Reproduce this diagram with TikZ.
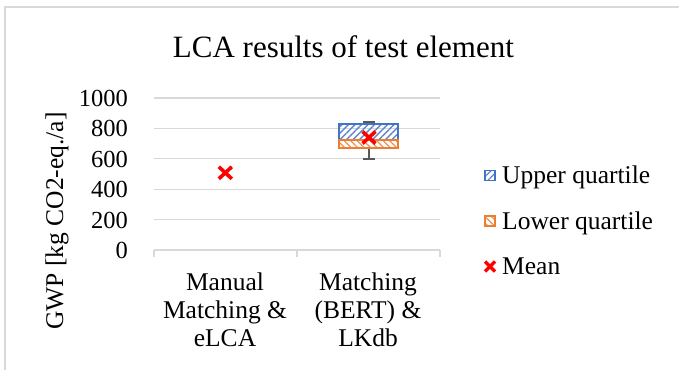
\documentclass[tikz,border=0pt]{standalone}
\usepackage{fontspec}
\setmainfont{Liberation Serif}
\usetikzlibrary{patterns.meta}
\definecolor{gridgray}{HTML}{D9D9D9}
\definecolor{qblue}{HTML}{4472C4}
\definecolor{qorange}{HTML}{ED7D31}
\definecolor{whisk}{HTML}{595959}
\definecolor{meanred}{HTML}{FF0000}
\begin{document}
\begin{tikzpicture}[x=1pt,y=-1pt,
  gridline/.style={gridgray,line width=1.3pt},
  ticklabel/.style={anchor=east,inner sep=0pt,font=\fontsize{24.5}{28}\selectfont},
  catlabel/.style={anchor=base,inner sep=0pt,font=\fontsize{25.5}{28}\selectfont},
  legtext/.style={anchor=base west,inner sep=0pt,font=\fontsize{25.5}{28}\selectfont},
  upperbox/.style={draw=qblue,line width=1.7pt,
    pattern={Lines[angle=45,distance=4.6pt,line width=1.3pt]},pattern color=qblue!85},
  lowerbox/.style={draw=qorange,line width=1.7pt,
    pattern={Lines[angle=-45,distance=4.6pt,line width=1.3pt]},pattern color=qorange!85},
  whisker/.style={whisk,line width=1.6pt},
  meanmark/.style={meanred,line width=3.6pt},
]
\useasboundingbox (0,0) rectangle (679,369);
\fill[white] (0,0) rectangle (679,369);

% chart area frame (continues past the right and bottom edges)
\draw[gridgray,line width=1.5pt] (5,400) -- (5,7) -- (700,7);

% title
\node[anchor=base,inner sep=0pt,font=\fontsize{31}{36}\selectfont] (title) at (343.4,57.3) {LCA results of test element};

% horizontal gridlines (value v at y = 250 - 0.152 v)
\foreach \yy in {98,128.4,158.8,189.2,219.6}
  \draw[gridline] (154,\yy) -- (440,\yy);
% category axis with tick marks
\draw[gridline] (154,250) -- (440,250);
\foreach \xx in {154,297,440}
  \draw[gridline] (\xx,250) -- (\xx,257);

% value axis labels
\node[ticklabel] (t1000) at (128,98.5) {1000};
\node[ticklabel] (t800) at (128,128.9) {800};
\node[ticklabel] (t600) at (128,159.3) {600};
\node[ticklabel] (t400) at (128,189.7) {400};
\node[ticklabel] (t200) at (128,220.1) {200};
\node[ticklabel] (t0) at (128,250.5) {0};
\node[rotate=90,inner sep=0pt,font=\fontsize{25.5}{28}\selectfont] (ytitle) at (57,221) {GWP [kg CO2-eq./a]};

% category labels
\node[catlabel] (c1a) at (225,290) {Manual};
\node[catlabel] (c1b) at (225,318.3) {Matching \&};
\node[catlabel] (c1c) at (225,346.6) {eLCA};
\node[catlabel] (c2a) at (368,290) {Matching};
\node[catlabel] (c2b) at (368,318.3) {(BERT) \&};
\node[catlabel] (c2c) at (368,346.6) {LKdb};

% second category: whiskers and quartile boxes
\coordinate (wtop) at (368.8,121.7);
\coordinate (wbot) at (368.8,159);
\draw[whisker] (wtop) -- (368.8,124.3);
\draw[whisker] (368.8,148.3) -- (wbot);
\draw[whisker] ([xshift=-5.8pt]wtop) -- ([xshift=5.8pt]wtop);
\draw[whisker] ([xshift=-5.8pt]wbot) -- ([xshift=5.8pt]wbot);
\draw[upperbox] (339.3,124.3) rectangle (398.3,139.9);
\draw[lowerbox] (339.3,139.9) rectangle (398.3,148.3);

% means
\coordinate (mean1) at (225.3,172.8);
\coordinate (mean2) at (369,137.5);
\foreach \m in {mean1,mean2}{
  \draw[meanmark] ([shift={(-6.5,-6)}]\m) -- ([shift={(6.5,6)}]\m);
  \draw[meanmark] ([shift={(-6.5,6)}]\m) -- ([shift={(6.5,-6)}]\m);
}

% legend
\draw[upperbox,line width=1.4pt] (485,170.5) rectangle (495,180.5);
\node[legtext] (lu) at (502,183.3) {Upper quartile};
\draw[lowerbox,line width=1.4pt] (485,216) rectangle (495,226);
\node[legtext] (ll) at (502,229) {Lower quartile};
\coordinate (lm) at (490,266.5);
\draw[meanmark,line width=3.2pt] ([shift={(-5,-5)}]lm) -- ([shift={(5,5)}]lm);
\draw[meanmark,line width=3.2pt] ([shift={(-5,5)}]lm) -- ([shift={(5,-5)}]lm);
\node[legtext] (lmean) at (502,274.3) {Mean};
\end{tikzpicture}
\end{document}
